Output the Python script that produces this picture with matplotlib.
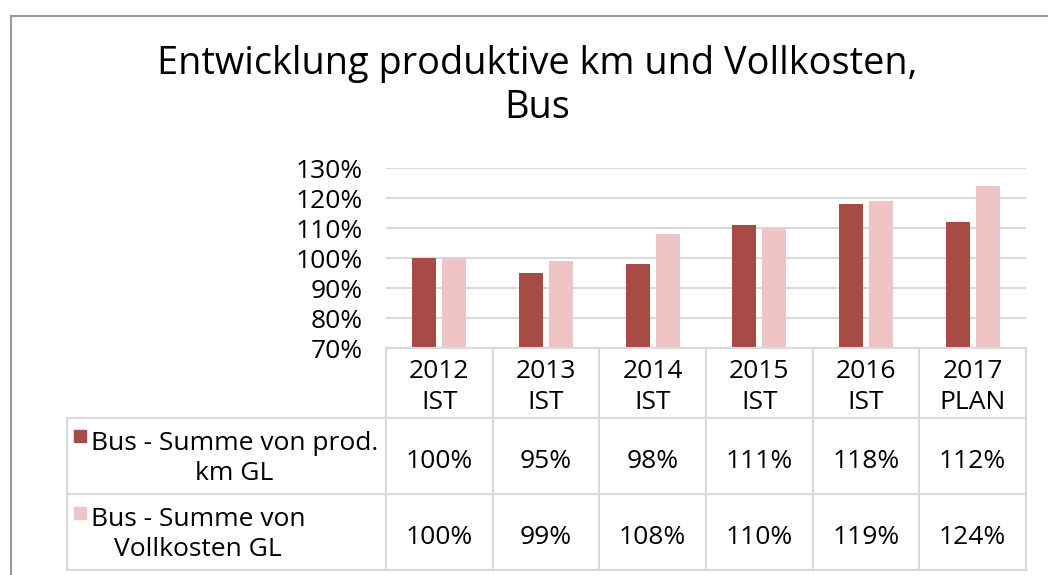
import matplotlib
matplotlib.use("Agg")
import matplotlib.pyplot as plt
from matplotlib.lines import Line2D
from matplotlib.patches import Rectangle
import numpy as np

categories = ["2012\nIST", "2013\nIST", "2014\nIST", "2015\nIST", "2016\nIST", "2017\nPLAN"]
km_values = [100, 95, 98, 111, 118, 112]
kosten_values = [100, 99, 108, 110, 119, 124]
series_names = ["Bus - Summe von prod.\nkm GL", "Bus - Summe von\nVollkosten GL"]
title = "Entwicklung produktive km und Vollkosten,\nBus"
yticks = [70, 80, 90, 100, 110, 120, 130]

dark = "#A64B46"
light = "#EEC4C4"
grid_c = "#D9D9D9"
FONT = "Open Sans"
FS = 19

W, H = 1048, 575
fig = plt.figure(figsize=(W / 100, H / 100), dpi=100)
plt.rcParams['font.family'] = [FONT, 'DejaVu Sans']

def fx(px):
    return px / W

def fy(py):
    return 1 - py / H

# outer border
fig.add_artist(Line2D([fx(10.5), fx(10.5)], [fy(15.5), fy(600)], color="#9A9A9A", lw=1.5))
fig.add_artist(Line2D([fx(10.5), fx(1100)], [fy(15.5), fy(15.5)], color="#9A9A9A", lw=1.5))

left, right, top, bottom = 386, 1026, 168, 348
ax = fig.add_axes([fx(left), fy(bottom), fx(right - left), (bottom - top) / H])

n = len(categories)
x = np.arange(n)
bw = 0.225
off = 0.14
ax.bar(x - off, km_values, width=bw, color=dark, zorder=3)
ax.bar(x + off, kosten_values, width=bw, color=light, zorder=3)
ax.set_xlim(-0.5, n - 0.5)
ax.set_ylim(70, 130)
ax.set_yticks(yticks)
ax.set_yticklabels([f"{v}%" for v in yticks], fontsize=FS)
ax.tick_params(axis="y", length=0, pad=16.5)
ax.set_xticks([])
ax.grid(axis="y", color=grid_c, lw=1.5, zorder=0)
for s in ax.spines.values():
    s.set_visible(False)

# title (baseline of last line)
fig.text(fx(537), fy(118), title, ha="center", va="baseline", fontsize=27.3,
         linespacing=1.19, color="black")

# table
col_w = (right - left) / n
row_y = [348, 418, 494, 570]
tleft = 67
lw_t = 1.5
fig.add_artist(Line2D([fx(left), fx(right)], [fy(row_y[0]), fy(row_y[0])], color=grid_c, lw=lw_t))
for yy in row_y[1:]:
    fig.add_artist(Line2D([fx(tleft), fx(right)], [fy(yy), fy(yy)], color=grid_c, lw=lw_t))
for i in range(n + 1):
    xx = left + i * col_w
    fig.add_artist(Line2D([fx(xx), fx(xx)], [fy(row_y[0]), fy(row_y[3])], color=grid_c, lw=lw_t))
fig.add_artist(Line2D([fx(tleft), fx(tleft)], [fy(row_y[1]), fy(row_y[3])], color=grid_c, lw=lw_t))

# header
for i, c in enumerate(categories):
    cx = left + (i + 0.5) * col_w
    fig.text(fx(cx), fy(409), c, ha="center", va="baseline",
             fontsize=FS, linespacing=1.3)

# rows
name_base = [480, 556]
sq_top = [430, 507]
for r, (vals, name, col) in enumerate([(km_values, series_names[0], dark),
                                        (kosten_values, series_names[1], light)]):
    y0, y1 = row_y[r + 1], row_y[r + 2]
    cy = (y0 + y1) / 2
    for i, v in enumerate(vals):
        cx = left + (i + 0.5) * col_w
        fig.text(fx(cx), fy(cy + 12), f"{v}%", ha="center", va="baseline", fontsize=FS)
    fig.add_artist(Rectangle((fx(74), fy(sq_top[r] + 12)), fx(12), 12 / H, color=col))
    fig.text(fx(91), fy(name_base[r]), name, ha="left", va="baseline", multialignment="center",
             fontsize=FS, linespacing=1.25)

fig.savefig("out.png", dpi=100)
